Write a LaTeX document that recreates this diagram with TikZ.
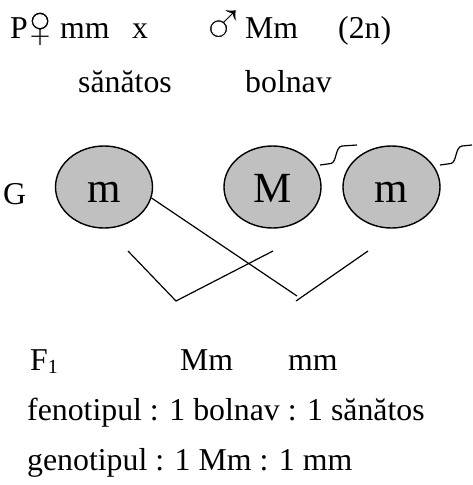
\documentclass[tikz,border=0pt]{standalone}
\usepackage{fontspec}
\setmainfont{Liberation Serif}
\usetikzlibrary{shapes.geometric}
\definecolor{gamgray}{RGB}{192,192,192}
\newcommand\thinglyph[1]{\makebox[20pt][c]{\special{pdf:literal q 2 Tr 1 1 1 RG 0.9 w}\rlap{#1}\special{pdf:literal Q}\phantom{#1}}}
\begin{document}
\begin{tikzpicture}[x=1pt,y=-1pt,
  txt/.style={anchor=base west,inner sep=0pt,font=\fontsize{31.8}{36}\selectfont},
  sym/.style={anchor=center,inner sep=0pt,font=\fontsize{64}{70}\selectfont},
  gam/.style={ellipse,draw=black,line width=1.4pt,fill=gamgray,minimum width=97pt,minimum height=82pt,inner sep=0pt,font=\fontsize{43}{48}\selectfont,text height=30pt,text depth=0pt},
  ln/.style={line width=1.2pt}]
\useasboundingbox (0,0) rectangle (472,485);
\fill[white] (0,0) rectangle (472,485);
% row 1
\node[txt] (P) at (10,38) {P};
\node[sym] (fem) at (40,30) {\thinglyph{♀}};
\node[txt] (mm1) at (60,38) {mm};
\node[txt] (x) at (132,38) {x};
\node[sym] (mal) at (223,27.5) {\thinglyph{♂}};
\node[txt] (Mm1) at (245,38) {Mm};
\node[txt] (n2) at (338,38) {(2n)};
% row 2
\node[txt] (san) at (78,92) {sănătos};
\node[txt] (bol) at (245,92) {bolnav};
% gametes
\node[txt] (G) at (3,204) {G};
\node[gam] (e1) at (104,187) {m};
\node[gam] (e2) at (272.5,187) {M};
\node[gam] (e3) at (391.5,187) {m};
% squiggles
\coordinate (s1) at (320,165);
\coordinate (s2) at (440,165);
\draw[ln] (s1) -- (331,163.5) .. controls (337,162) and (335,147) .. (342,146) -- (357,145);
\draw[ln] (s2) -- (451,163.5) .. controls (457,162) and (455,147) .. (462,146) -- (472,145);
% crossing lines
\coordinate (a1) at (297,296);
\coordinate (v1l) at (128,251);
\coordinate (v1b) at (176,301);
\coordinate (v1r) at (273,251);
\coordinate (v2b) at (296,301);
\coordinate (v2r) at (368,251);
\draw[ln] (e1.-13) -- (a1);
\draw[ln] (v1l) -- (v1b) -- (v1r);
\draw[ln] (v2b) -- (v2r);
% F1
\node[txt] (F1) at (30,370) {F\raisebox{-3pt}{\fontsize{20}{20}\selectfont 1}};
\node[txt] (Mm2) at (180,370) {Mm};
\node[txt] (mm2) at (288,370) {mm};
\node[txt] (fen) at (27,420) {fenotipul : 1 bolnav : 1 sănătos};
\node[txt] (gen) at (27,470) {genotipul : 1 Mm : 1 mm};
\end{tikzpicture}
\end{document}
